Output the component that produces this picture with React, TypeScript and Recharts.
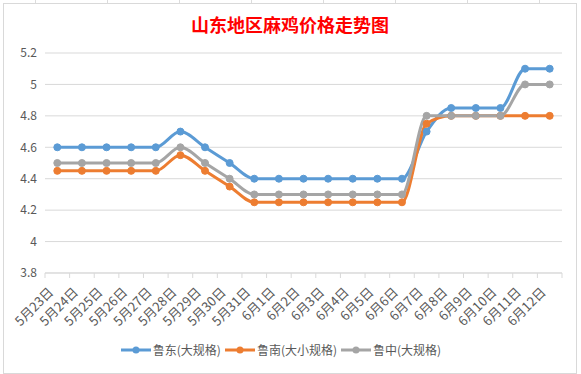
import { LineChart, Line, XAxis, YAxis, CartesianGrid, Legend } from "recharts";

const DATES = [
  "5月23日", "5月24日", "5月25日", "5月26日", "5月27日", "5月28日", "5月29日", "5月30日", "5月31日",
  "6月1日", "6月2日", "6月3日", "6月4日", "6月5日", "6月6日", "6月7日", "6月8日", "6月9日",
  "6月10日", "6月11日", "6月12日",
];
const EAST = [4.6, 4.6, 4.6, 4.6, 4.6, 4.7, 4.6, 4.5, 4.4, 4.4, 4.4, 4.4, 4.4, 4.4, 4.4, 4.7, 4.85, 4.85, 4.85, 5.1, 5.1];
const SOUTH = [4.45, 4.45, 4.45, 4.45, 4.45, 4.55, 4.45, 4.35, 4.25, 4.25, 4.25, 4.25, 4.25, 4.25, 4.25, 4.75, 4.8, 4.8, 4.8, 4.8, 4.8];
const MIDDLE = [4.5, 4.5, 4.5, 4.5, 4.5, 4.6, 4.5, 4.4, 4.3, 4.3, 4.3, 4.3, 4.3, 4.3, 4.3, 4.8, 4.8, 4.8, 4.8, 5.0, 5.0];
const Y_TICKS = [3.8, 4, 4.2, 4.4, 4.6, 4.8, 5, 5.2];

const SERIES = [
  { key: "east", name: "鲁东(大规格)", color: "#5b9bd5" },
  { key: "south", name: "鲁南(大小规格)", color: "#ed7d31" },
  { key: "middle", name: "鲁中(大规格)", color: "#a5a5a5" },
];

const data = DATES.map((d, i) => ({ date: d, east: EAST[i], south: SOUTH[i], middle: MIDDLE[i] }));

const W = 572;
const H = 369;
const M = { top: 49, right: 14, left: 0, bottom: 8 };
const Y_W = 41;
const BAND = (W - M.left - M.right - Y_W) / DATES.length;
const FONT = "'Noto Sans CJK SC', 'Noto Sans', sans-serif";

const XTick = (props: any) => {
  const { x, y, payload, index } = props;
  const ay = y - 8;
  return (
    <g>
      <line x1={x - BAND / 2} x2={x - BAND / 2} y1={ay} y2={ay + 5} stroke="#d9d9d9" />
      {index === DATES.length - 1 && (
        <line x1={x + BAND / 2} x2={x + BAND / 2} y1={ay} y2={ay + 5} stroke="#d9d9d9" />
      )}
      <text
        transform={`translate(${x - 3},${ay + 20}) rotate(-45)`}
        textAnchor="end"
        fontSize={13}
        fill="#595959"
        fontFamily={FONT}
      >
        {payload.value}
      </text>
    </g>
  );
};

const LegendContent = () => (
  <div style={{ display: "flex", justifyContent: "center", fontSize: 12, color: "#595959", fontFamily: FONT }}>
    {SERIES.map((s) => (
      <span key={s.key} style={{ display: "flex", alignItems: "center", marginRight: 4 }}>
        <svg width={30} height={10} style={{ marginRight: 2 }}>
          <line x1={0} x2={30} y1={5} y2={5} stroke={s.color} strokeWidth={3} />
          <circle cx={15} cy={5} r={3.5} fill={s.color} />
        </svg>
        {s.name}
      </span>
    ))}
  </div>
);

export default function App() {
  return (
    <div
      style={{
        position: "absolute",
        left: 0,
        top: 0,
        width: 581,
        height: 374,
        background: "#fff",
        backgroundImage:
          "repeating-linear-gradient(90deg, transparent 0 35px, #dcdcdc 35px 36px, transparent 36px 72px)",
      }}
    >
      <div
        style={{
          position: "absolute",
          left: 3,
          top: 3,
          width: W,
          height: H,
          border: "1px solid #d9d9d9",
          background: "#fff",
        }}
      >
        <div
          style={{
            position: "absolute",
            top: 7,
            width: "100%",
            textAlign: "center",
            color: "#ff0000",
            fontSize: 18,
            fontWeight: "bold",
            fontFamily: FONT,
          }}
        >
          山东地区麻鸡价格走势图
        </div>
        <LineChart width={W} height={H} data={data} margin={M}>
          <CartesianGrid vertical={false} stroke="#d9d9d9" />
          <XAxis
            dataKey="date"
            scale="band"
            interval={0}
            tick={<XTick />}
            tickLine={false}
            axisLine={{ stroke: "#d9d9d9" }}
            height={68}
          />
          <YAxis
            domain={[3.8, 5.2]}
            ticks={Y_TICKS}
            axisLine={false}
            tickLine={false}
            width={Y_W}
            tick={{ fontSize: 12, fill: "#595959", fontFamily: FONT }}
          />
          <Legend content={<LegendContent />} verticalAlign="bottom" height={24} />
          {SERIES.map((s) => (
            <Line
              key={s.key}
              dataKey={s.key}
              name={s.name}
              type="monotone"
              stroke={s.color}
              strokeWidth={3}
              dot={{ r: 3.5, fill: s.color, stroke: s.color, strokeWidth: 1 }}
              isAnimationActive={false}
            />
          ))}
        </LineChart>
      </div>
    </div>
  );
}
